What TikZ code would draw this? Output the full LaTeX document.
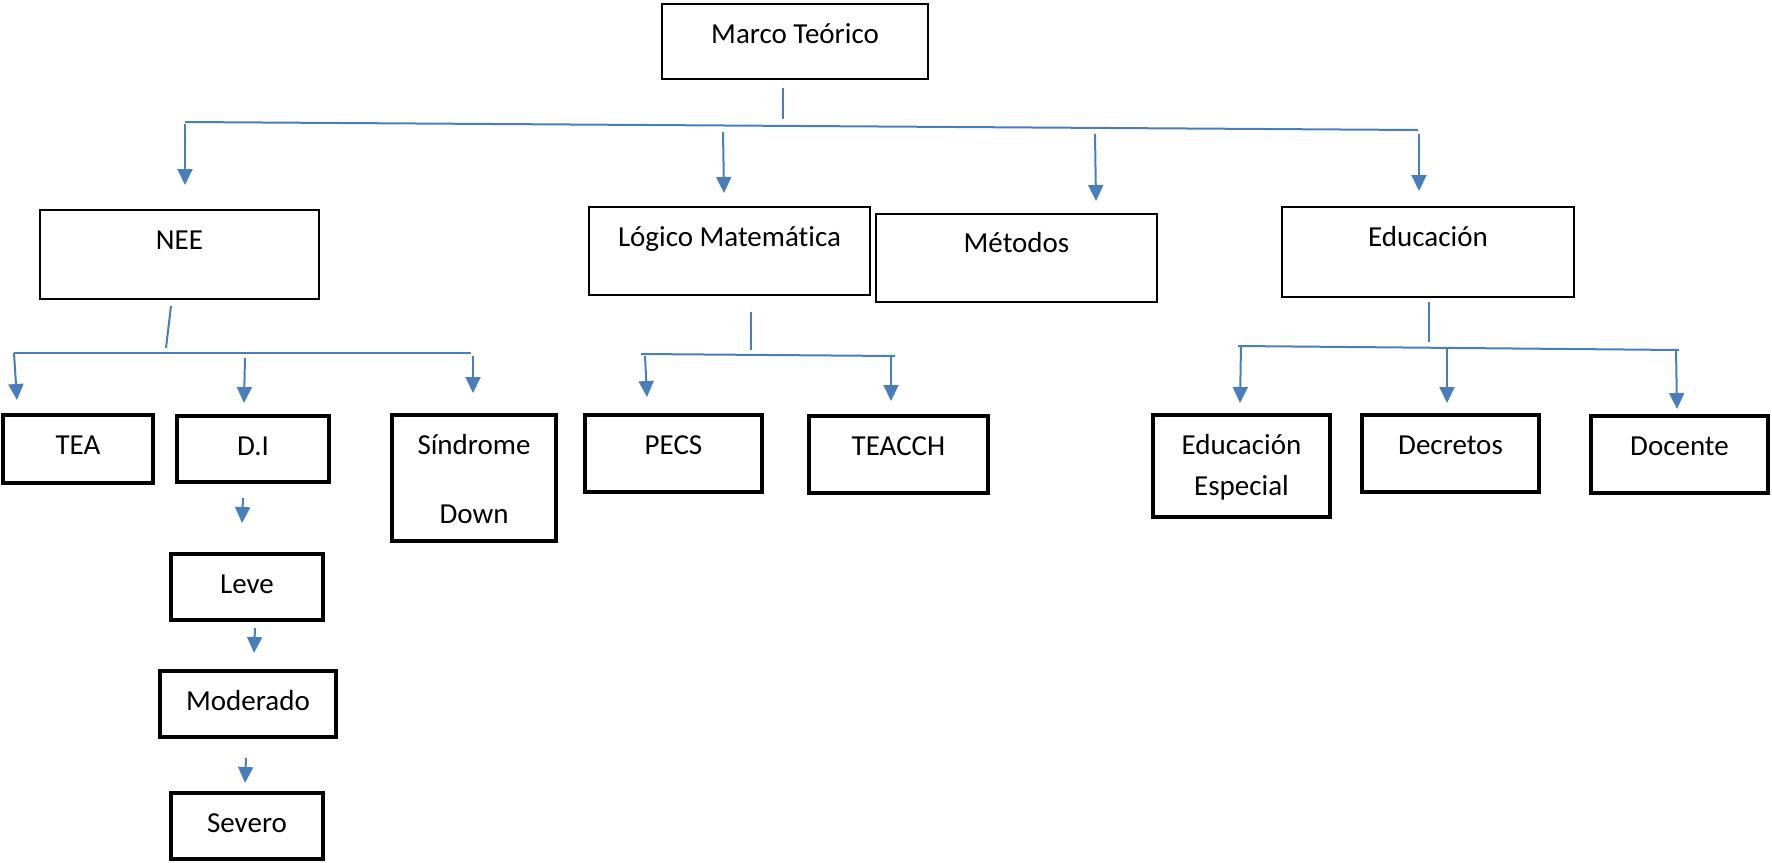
\documentclass[tikz,border=0pt]{standalone}
\usepackage{fontspec}
\setmainfont{Carlito}[Ligatures=NoCommon]
\usepackage{tikz}
\usetikzlibrary{arrows.meta,positioning,calc}
\definecolor{linkblue}{RGB}{74,126,187}

\begin{document}
\begin{tikzpicture}
[x=0.5pt,y=-0.5pt,
every node/.style={font=\fontsize{14.5pt}{17.5pt}\selectfont,inner sep=0pt,text height=19.5pt},
mainbox/.style={draw=black,line width=1pt},
leafbox/.style={draw=black,line width=2pt},
link/.style={draw=linkblue,line width=1pt},
arr/.style={link,-{Triangle[length=8pt,width=7.5pt]}}]
\useasboundingbox (0,0) rectangle (1772,862);
\node[mainbox,minimum width=133pt,text depth=18pt] (marco) at (795,41.5) {Marco Teórico};
\node[mainbox,minimum width=139.5pt,text depth=25pt] (nee) at (179.5,254.5) {NEE};
\node[mainbox,minimum width=140.5pt,text depth=24.5pt] (logico) at (729.5,251) {Lógico Matemática};
\node[mainbox,minimum width=140.5pt,text depth=24.5pt] (metodos) at (1016.5,257.5) {Métodos};
\node[mainbox,minimum width=146pt,text depth=25.5pt] (educacion) at (1428,252) {Educación};
\node[leafbox,minimum width=75pt,text depth=14.5pt] (tea) at (78,449) {TEA};
\node[leafbox,minimum width=76pt,text depth=13.5pt] (di) at (253,449) {D.I};
\node[leafbox,minimum width=82pt,text width=70pt,align=center,text depth=43.5pt] (sindrome) at (474,478) {Síndrome\\[17pt]Down};
\node[leafbox,minimum width=88.5pt,text depth=19pt] (pecs) at (673.5,453.5) {PECS};
\node[leafbox,minimum width=89.5pt,text depth=19pt] (teacch) at (898.5,454.5) {TEACCH};
\node[leafbox,minimum width=88.5pt,text width=80pt,align=center,text depth=31.5pt] (eduesp) at (1241.5,466) {Educación\\[3pt]Especial};
\node[leafbox,minimum width=88.5pt,text depth=19pt] (decretos) at (1450.5,453.5) {Decretos};
\node[leafbox,minimum width=88.5pt,text depth=19pt] (docente) at (1679.5,454.5) {Docente};
\node[leafbox,minimum width=76pt,text depth=13.5pt] (leve) at (247,587) {Leve};
\node[leafbox,minimum width=88pt,text depth=13.5pt] (moderado) at (248,704) {Moderado};
\node[leafbox,minimum width=76pt,text depth=13.5pt] (severo) at (247,826) {Severo};

\coordinate (marcoS) at (783,88);
\coordinate (marcoJ) at (783,119);
\coordinate (busL) at (185,122);
\coordinate (busR) at (1418,130);
\draw[link] (marcoS) -- (marcoJ);
\draw[link] (busL) -- (busR);
\draw[arr] (185,124) -- (185,185);
\draw[arr] (723,132) -- (724,193);
\draw[arr] (1095,134) -- (1096,201);
\draw[arr] (1419,134) -- (1419,191);

\coordinate (neeS) at (171,306);
\coordinate (neeJ) at (166,348);
\coordinate (neeL) at (14,353);
\coordinate (neeR) at (471,353);
\draw[link] (neeS) -- (neeJ);
\draw[link] (neeL) -- (neeR);
\draw[arr] (14,353) -- (17,400);
\draw[arr] (245,358) -- (244,403);
\draw[arr] (473,356) -- (473,393);

\coordinate (logS) at (751,312);
\coordinate (logJ) at (751,350);
\coordinate (logL) at (641,354);
\coordinate (logR) at (895,356);
\draw[link] (logS) -- (logJ);
\draw[link] (logL) -- (logR);
\draw[arr] (645,356) -- (647,397);
\draw[arr] (891,356) -- (891,401);

\coordinate (eduS) at (1429,302);
\coordinate (eduJ) at (1429,342);
\coordinate (eduL) at (1238,346);
\coordinate (eduR) at (1679,350);
\draw[link] (eduS) -- (eduJ);
\draw[link] (eduL) -- (eduR);
\draw[arr] (1241,346) -- (1240,403);
\draw[arr] (1447,348) -- (1447,403);
\draw[arr] (1676,350) -- (1677,409);

\draw[arr] (243,498) -- (242,523);
\draw[arr] (255,628) -- (254,653);
\draw[arr] (246,758) -- (245,783);
\end{tikzpicture}
\end{document}
